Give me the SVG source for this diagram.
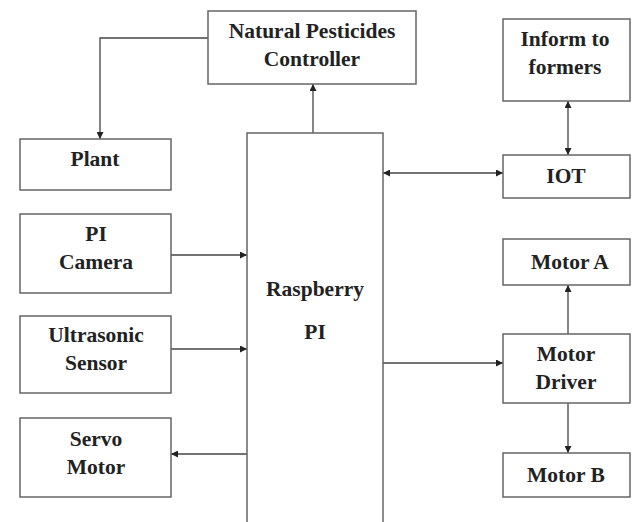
<svg xmlns="http://www.w3.org/2000/svg" width="632" height="522" viewBox="0 0 632 522">
<style>
.box{fill:#fff;stroke:#666;stroke-width:1.5}
.t{font-family:"Liberation Serif","Times New Roman",serif;font-weight:bold;font-size:21.5px;fill:#222;text-anchor:middle}
.c{fill:none;stroke:#444;stroke-width:1.3}
</style>
<defs>
<marker id="a" viewBox="0 0 10 10" refX="10" refY="5" markerWidth="7" markerHeight="7" markerUnits="userSpaceOnUse" orient="auto-start-reverse">
<path d="M0,0 L10,5 L0,10 z" fill="#222"/>
</marker>
</defs>
<rect width="632" height="522" fill="#fff"/>
<g id="connectors">
<path class="c" d="M208,38 H100 V139" marker-end="url(#a)"/>
<path class="c" d="M313,133 V84" marker-end="url(#a)"/>
<path class="c" d="M383,173 H503" marker-start="url(#a)" marker-end="url(#a)"/>
<path class="c" d="M568,101 V155" marker-start="url(#a)" marker-end="url(#a)"/>
<path class="c" d="M171,255 H247" marker-end="url(#a)"/>
<path class="c" d="M171,349 H247" marker-end="url(#a)"/>
<path class="c" d="M247,454 H171" marker-end="url(#a)"/>
<path class="c" d="M383,363 H503" marker-end="url(#a)"/>
<path class="c" d="M568,334 V285" marker-end="url(#a)"/>
<path class="c" d="M568,403 V453" marker-end="url(#a)"/>
</g>
<g id="npc"><rect class="box" x="208" y="11" width="208" height="73"/><text class="t" x="312" y="38">Natural Pesticides</text><text class="t" x="312" y="66">Controller</text></g>
<g id="plant"><rect class="box" x="20" y="139" width="151" height="51"/><text class="t" x="95" y="166">Plant</text></g>
<g id="rpi"><rect class="box" x="247" y="133" width="136" height="395"/><text class="t" x="315" y="296">Raspberry</text><text class="t" x="315" y="339">PI</text></g>
<g id="inform"><rect class="box" x="503" y="19" width="127" height="82"/><text class="t" x="565" y="46">Inform to</text><text class="t" x="565" y="74">formers</text></g>
<g id="iot"><rect class="box" x="503" y="155" width="127" height="43"/><text class="t" x="566" y="183">IOT</text></g>
<g id="camera"><rect class="box" x="20" y="214" width="151" height="79"/><text class="t" x="96" y="241">PI</text><text class="t" x="96" y="269">Camera</text></g>
<g id="ultrasonic"><rect class="box" x="20" y="316" width="151" height="77"/><text class="t" x="96" y="342">Ultrasonic</text><text class="t" x="96" y="370">Sensor</text></g>
<g id="servo"><rect class="box" x="20" y="418" width="151" height="79"/><text class="t" x="96" y="446">Servo</text><text class="t" x="96" y="474">Motor</text></g>
<g id="motora"><rect class="box" x="503" y="239" width="127" height="46"/><text class="t" x="570" y="269">Motor A</text></g>
<g id="driver"><rect class="box" x="503" y="334" width="127" height="69"/><text class="t" x="566" y="361">Motor</text><text class="t" x="566" y="389">Driver</text></g>
<g id="motorb"><rect class="box" x="503" y="453" width="127" height="44"/><text class="t" x="566" y="482">Motor B</text></g>
</svg>
